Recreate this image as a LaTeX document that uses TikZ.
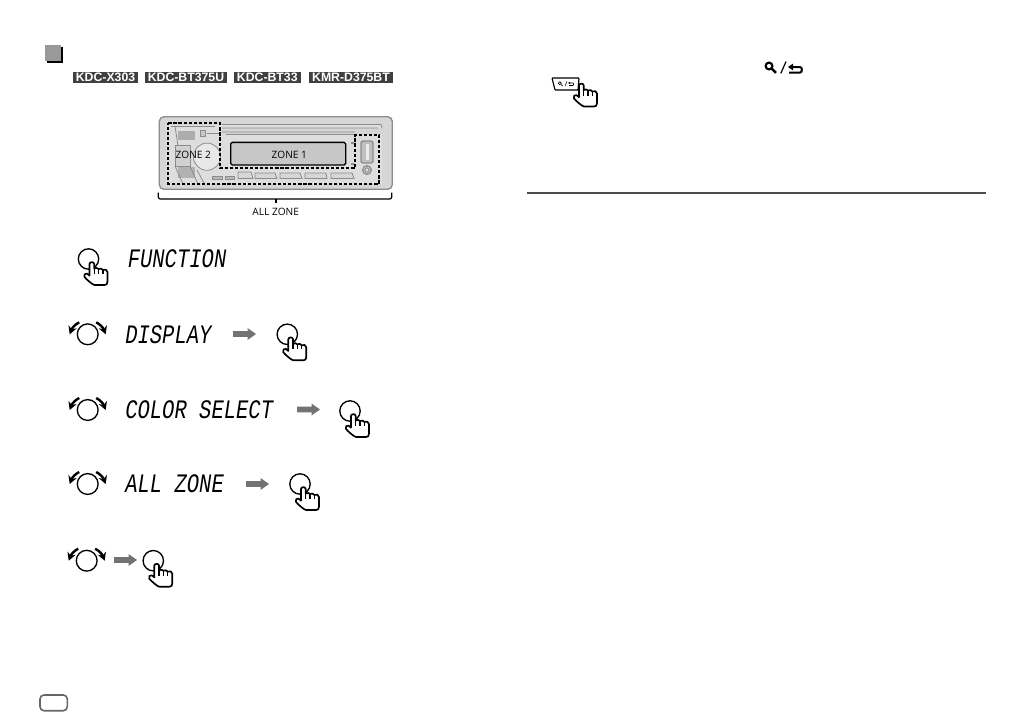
\documentclass[tikz,border=0pt]{standalone}
\usepackage{fontspec}
\usetikzlibrary{arrows.meta}
\setmainfont{Open Sans}
\newfontfamily\arialf{Liberation Sans}
\newfontfamily\lcdf[FakeStretch=0.77]{Liberation Mono}
\definecolor{devfill}{HTML}{D6D6D6}
\definecolor{devline}{HTML}{8C8C8C}
\tikzset{
  x=0.75pt,y=-0.75pt,
  tagbox/.style={fill=black!75,text=white,inner sep=0pt,font=\arialf\bfseries\fontsize{9.2pt}{9.5pt}\selectfont,anchor=center},
  lcd/.style={anchor=west,inner sep=0pt,font=\lcdf\itshape\fontsize{20pt}{20pt}\selectfont},
  zonelabel/.style={inner sep=0pt,font=\fontsize{7.6pt}{9pt}\selectfont},
  ink/.style={line width=1pt,black},
  devdetail/.style={line width=0.6pt,devline},
  pics/handshape/.style={code={
    \draw[line width=1.25pt,black,fill=white,line join=round]
      (1,13) -- (1,5) .. controls (1,2.5) and (5.7,2.5) .. (5.7,5) -- (5.7,9.6)
      .. controls (7,8.6) and (9.5,8.6) .. (10,10) .. controls (11.5,9.2) and (14,9.4) .. (14.4,11)
      .. controls (16,10) and (19,10.4) .. (19,13) -- (19,22.5)
      .. controls (19,25) and (18,26) .. (16,26) -- (6,26)
      .. controls (4.5,26) and (-2,20.5) .. (-4,18) .. controls (-5,16) and (-3.5,13.8) .. (-1.5,14.6) -- (1,16.6) -- cycle;
    \draw[line width=0.9pt] (5.7,9.6) -- (5.7,15) (10,10) -- (10,15) (14.4,11) -- (14.4,15);
  }},
  pics/pushicon/.style={code={
    \draw[ink] (0,0) circle[radius=10.2];
    \pic {handshape};
  }},
  pics/turnicon/.style={code={
    \draw[ink] (0,0) circle[radius=10.4];
    \draw[line width=1.8pt,-{Stealth[length=6pt,width=6.5pt]}] (-8.5,-12) .. controls (-12.5,-10) and (-15.5,-6.5) .. (-18,0);
    \draw[line width=1.8pt,-{Stealth[length=6pt,width=6.5pt]}] (8.5,-12) .. controls (12.5,-10) and (15.5,-6.5) .. (18,0);
  }},
  pics/nextarrow/.style={code={
    \fill[black!55] (0,-2.8) -- (14.5,-2.8) -- (14.5,-6) -- (23,0) -- (14.5,6) -- (14.5,2.8) -- (0,2.8) -- cycle;
  }},
  pics/searchback/.style={code={
    \draw[line width=1.6pt] (0,0) circle[radius=3.4];
    \draw[line width=1.9pt] (2.5,2.5) -- (7,6.8);
    \draw[line width=0.9pt] (11.8,7.4) -- (17,-4.4);
    \draw[line width=1.5pt] (21,1) -- (31,1) .. controls (33.5,1) and (33.5,6.6) .. (31,6.6) -- (20,6.6);
    \fill (19,1) -- (24,-2.4) -- (24,4.4) -- cycle;
  }}
}
\begin{document}
\begin{tikzpicture}
\useasboundingbox (0,0) rectangle (1032,726);
\fill[white] (0,0) rectangle (1032,726);

% header square
\fill[black] (47,47) rectangle (62.5,62.5);
\fill[black!40] (45.3,45.3) rectangle (61,61);

% model tags
\node[tagbox,minimum width=64.4pt*0.75,minimum height=11pt*0.75] (tagA) at (105.5,77.2) {KDC-X303};
\node[tagbox,minimum width=81.4pt*0.75,minimum height=11pt*0.75] (tagB) at (186,77.2) {KDC-BT375U};
\node[tagbox,minimum width=66.7pt*0.75,minimum height=11pt*0.75] (tagC) at (267.3,77.2) {KDC-BT33};
\node[tagbox,minimum width=83.4pt*0.75,minimum height=11pt*0.75] (tagD) at (351,77.2) {KMR-D375BT};

% device
\draw[devline,line width=1pt,fill=devfill,rounded corners=3.5pt] (159.3,116.7) rectangle (392.3,189.3);
\fill[black!13] (166,125) rectangle (382,184);
\fill[devfill] (222,128) rectangle (382,134);
\draw[devdetail] (222,124.5) -- (381,124.5) -- (382,128) (222,128) -- (378,128) (222,132) -- (355,132) (226,134.5) -- (355,134.5);
% left cluster
\fill[black!32] (178,131) rectangle (195,140);
\draw[devdetail] (171,126) -- (215,126);
\draw[devdetail,fill=black!22] (200,130.5) rectangle (205,136.5);
\draw[devdetail] (207,133) -- (220,133);
\draw[devdetail] (175,126) -- (178,146);
\draw[devdetail,fill=black!18] (175,145) rectangle (190,166);
\fill[black!30] (178,167) rectangle (195,178);
\draw[devdetail] (175,166) -- (183,184) (190,166) -- (198,184) (197,170) -- (204,183);
\draw[devdetail,fill=black!9] (207,156.7) circle[radius=13.6];
% bottom buttons
\draw[devdetail,fill=black!28] (212,176) rectangle (222,179);
\draw[devdetail,fill=black!28] (225,176) rectangle (234,179);
\draw[devdetail,fill=devfill] (238,172) -- (251,172) -- (253,178.5) -- (238,178.5) -- cycle;
\draw[devdetail,fill=devfill] (255,173) -- (275,173) -- (277,178.5) -- (255,178.5) -- cycle;
\draw[devdetail,fill=devfill] (280,173) -- (300,173) -- (302,178.5) -- (280,178.5) -- cycle;
\draw[devdetail,fill=devfill] (305,173) -- (326,173) -- (327,178.5) -- (305,178.5) -- cycle;
\draw[devdetail,fill=devfill] (331,173) -- (352,173) -- (354,178.5) -- (331,178.5) -- cycle;
% usb + jack
\draw[devline,line width=1pt,fill=black!25,rounded corners=1.5pt] (361,141) rectangle (373,163);
\fill[black!8] (365.5,144) rectangle (369,160);
\draw[devline,line width=1pt,fill=black!12] (367,170) circle[radius=4.3];
\draw[devline,line width=0.8pt] (367,170) circle[radius=2.2];
% small marks
\fill[black!45] (351,142) rectangle (354,144) (351,163) rectangle (354,165);
% display
\node[draw=black,line width=1pt,fill=black!22,rounded corners=1.2pt,minimum width=115pt*0.75,minimum height=22.7pt*0.75,inner sep=0pt] (zoneone) at (288.2,153.7) {};
\node[zonelabel] (zoneonelabel) at (289.3,155) {ZONE 1};
% zone frames
\draw[black,line width=1.5pt,dash pattern=on 2.4pt off 1.4pt] (168.3,123.3) -- (220,123.3) -- (220,168.3) -- (355,168.3) -- (355,135) -- (379,135) -- (379,184) -- (168.3,184) -- cycle;
\node[zonelabel] (zonetwo) at (193.3,155) {ZONE 2};

% bracket
\coordinate (brL) at (158.3,192.7);
\coordinate (brR) at (391.7,192.7);
\coordinate (brT) at (275.7,202.5);
\draw[line width=0.9pt,rounded corners=1.5pt] (brL) -- (158.3,199) -- (391.7,199) -- (brR);
\draw[line width=1.3pt] (275.7,199) -- (brT);
\node[zonelabel] (allzone) at (275.7,212) {ALL ZONE};

% step 1
\pic at (88.5,259) {pushicon};
\node[lcd] (lcdA) at (127.5,259) {FUNCTION};
% step 2
\pic at (87.7,334.3) {turnicon};
\node[lcd] (lcdB) at (125,334.3) {DISPLAY};
\pic at (233,334) {nextarrow};
\pic at (287.3,334.3) {pushicon};
% step 3
\pic at (87.7,410) {turnicon};
\node[lcd] (lcdC) at (125,410) {COLOR SELECT};
\pic at (297,409.5) {nextarrow};
\pic at (350,411) {pushicon};
% step 4
\pic at (87.7,484) {turnicon};
\node[lcd] (lcdD) at (125,484) {ALL ZONE};
\pic at (246,484) {nextarrow};
\pic at (300,484) {pushicon};
% step 5
\pic at (86.7,560.7) {turnicon};
\pic at (114,560) {nextarrow};
\pic at (153.3,560.7) {pushicon};

% right column
\pic at (769,66) {searchback};
\draw[line width=0.9pt,fill=white,rounded corners=0.6pt] (552,78) -- (579,78) -- (578,90) -- (555,90) -- cycle;
\draw[line width=0.5pt] (559.8,83.2) circle[radius=1.5];
\draw[line width=0.6pt] (561,84.4) -- (562.6,86);
\draw[line width=0.4pt] (565,86.2) -- (567,81.4);
\draw[line width=0.5pt] (569,83) -- (573,83) .. controls (574,83) and (574,85.5) .. (573,85.5) -- (569,85.5);
\fill (568.2,83) -- (570,81.8) -- (570,84.2) -- cycle;
\pic at (578,80.5) {handshape};
\draw[black!70,line width=1pt] (527,193) -- (986,193);

% page badge
\draw[black!60,line width=1.2pt,rounded corners=3pt] (40,695) rectangle (67.3,710.7);
\end{tikzpicture}
\end{document}
